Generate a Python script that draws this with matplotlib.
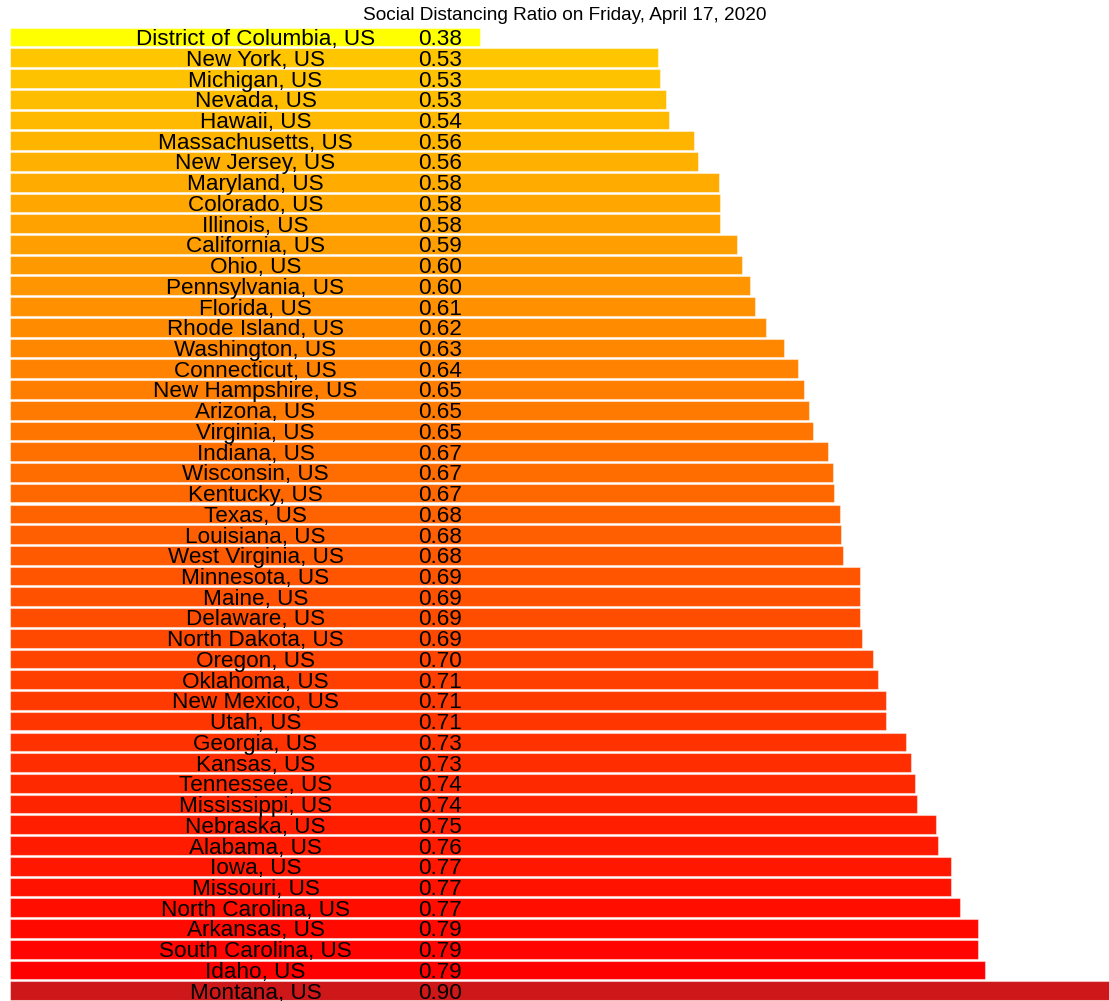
import matplotlib
matplotlib.use('Agg')
import matplotlib.pyplot as plt

# Data (ratio per state, sorted ascending)
states = ['District of Columbia', 'New York', 'Michigan', 'Nevada', 'Hawaii',
          'Massachusetts', 'New Jersey', 'Maryland', 'Colorado', 'Illinois',
          'California', 'Ohio', 'Pennsylvania', 'Florida', 'Rhode Island',
          'Washington', 'Connecticut', 'New Hampshire', 'Arizona', 'Virginia',
          'Indiana', 'Wisconsin', 'Kentucky', 'Texas', 'Louisiana',
          'West Virginia', 'Minnesota', 'Maine', 'Delaware', 'North Dakota',
          'Oregon', 'Oklahoma', 'New Mexico', 'Utah', 'Georgia', 'Kansas',
          'Tennessee', 'Mississippi', 'Nebraska', 'Alabama', 'Iowa', 'Missouri',
          'North Carolina', 'Arkansas', 'South Carolina', 'Idaho', 'Montana']
ratios = [0.383, 0.528, 0.529, 0.534, 0.537,
          0.557, 0.560, 0.577, 0.578, 0.578,
          0.592, 0.596, 0.603, 0.607, 0.616,
          0.630, 0.642, 0.647, 0.651, 0.654,
          0.666, 0.670, 0.671, 0.676, 0.677,
          0.678, 0.692, 0.692, 0.692, 0.694,
          0.703, 0.707, 0.713, 0.713, 0.730, 0.734,
          0.737, 0.739, 0.754, 0.756, 0.766, 0.766,
          0.774, 0.788, 0.788, 0.794, 0.900]
labels = [s + ', US' for s in states]

# Farger: gul for DC, gult->raudt etter rang, mørk raud for Montana
n = len(states)
colors = []
for i in range(n):
    if i == 0:
        colors.append('#ffff00')
    elif i == n - 1:
        colors.append('#cd1719')
    else:
        g = 198 * (1 - (i - 1) / (n - 3))
        colors.append((1.0, g / 255, 0.0))

fig = plt.figure(figsize=(11.09, 10.01), dpi=100)
ax = fig.add_axes([10 / 1109, 0, 1 - 10 / 1109, 1 - 26.7 / 1001])

y = list(range(n))
ax.barh(y, ratios, height=0.9, color=colors, edgecolor=(1, 1, 1, 0.45), linewidth=0.8)
ax.set_xlim(0, 0.895)
ax.set_ylim(n - 0.5, -0.5)
ax.axis('off')

# Tekst på kvar stolpe: namn sentrert, verdi til høgre for det
name_x = (255.5 - 10) / 1228
val_x = (440 - 10) / 1228
for i in range(n):
    ax.text(name_x, i, labels[i], ha='center', va='center_baseline',
            fontsize=16.2, family='Liberation Sans', color='black')
    ax.text(val_x, i, '%.2f' % ratios[i], ha='center', va='center_baseline',
            fontsize=16.2, family='Liberation Sans', color='black')

fig.text(565 / 1109, 1 - 15 / 1001, 'Social Distancing Ratio on Friday, April 17, 2020',
         ha='center', va='center', fontsize=13.7, family='Liberation Sans')

fig.savefig('out.png', dpi=100)
